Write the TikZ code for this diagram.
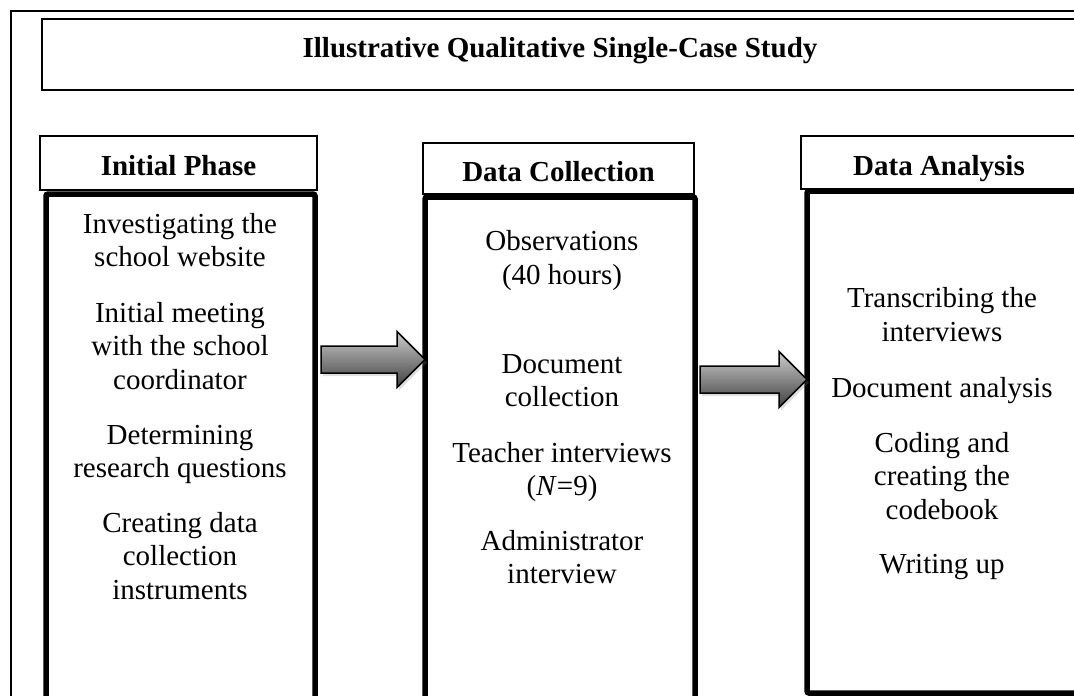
\documentclass[tikz,border=0pt]{standalone}
\usepackage{fontspec}
\setmainfont{Liberation Serif}
\usetikzlibrary{calc,shadows}

\newcommand{\bodysize}{\fontsize{29}{33.5}\selectfont}
\newcommand{\blockarrow}[2]{% #1 = free end, #2 = tip
  \path[fatarrow] let \p1=(#1), \p2=(#2) in
    (\x1,\y1+13.5pt) -- (\x2-28pt,\y1+13.5pt) -- (\x2-28pt,\y1+28pt) -- (\x2,\y1)
    -- (\x2-28pt,\y1-28pt) -- (\x2-28pt,\y1-13.5pt) -- (\x1,\y1-13.5pt) -- cycle;
}

\tikzset{
  titlebox/.style={draw, line width=1.2pt, inner sep=0pt, outer sep=0pt,
    font=\bodysize\bfseries, text height=5pt, text depth=0pt},
  headbox/.style={draw, line width=1.4pt, inner sep=0pt, outer sep=0pt,
    font=\bodysize\bfseries, text height=25pt, text depth=0pt},
  phasebox/.style={draw, line width=5.5pt, rounded corners=2pt, inner sep=0pt, outer sep=0pt},
  item/.style={align=center, inner sep=0pt, anchor=base, font=\bodysize},
  fatarrow/.style={draw, line width=1.5pt, line join=miter, top color=black!20, bottom color=black!75,
    drop shadow={opacity=0.25, shadow xshift=2pt, shadow yshift=-3pt}}
}

\begin{document}
\begin{tikzpicture}[x=1pt, y=-1pt]
    \useasboundingbox (0,0) rectangle (1074,696);
    \clip (0,0) rectangle (1074,696);

    % frame and title
    \draw[line width=1.8pt] (11,11) rectangle (1110,730);
    \node[titlebox, minimum width=1036pt, minimum height=71pt] (title) at (560,54.5)
        {Illustrative Qualitative Single-Case Study};

    % the three phases
    \node[phasebox, minimum width=269pt, minimum height=530pt] (initbox) at (180.5,459) {};
    \node[phasebox, minimum width=270pt, minimum height=527pt] (collbox) at (560,460.5) {};
    \node[phasebox, minimum width=283pt, minimum height=502pt] (analbox) at (948.5,442) {};

    \node[headbox, minimum width=277pt, minimum height=54pt] (inithead) at (178.5,163) {Initial Phase};
    \node[headbox, minimum width=271pt, minimum height=51pt] (collhead) at (558.5,168.5) {Data Collection};
    \node[headbox, minimum width=276pt, minimum height=53pt] (analhead) at (939,162.5) {Data Analysis};

    % initial phase (y = baseline of the last line)
    \node[item] (init1) at (180,266.5) {Investigating the\\school website};
    \node[item] (init2) at (180,389) {Initial meeting\\with the school\\coordinator};
    \node[item] (init3) at (180,477.5) {Determining\\research questions};
    \node[item] (init4) at (180,599) {Creating data\\collection\\instruments};

    % data collection
    \node[item] (coll1) at (562,284) {Observations\\(40 hours)};
    \node[item] (coll2) at (562,406.5) {Document\\collection};
    \node[item] (coll3) at (562,495.5) {Teacher interviews\\(\textit{N}=9)};
    \node[item] (coll4) at (562,583.5) {Administrator\\interview};

    % data analysis
    \node[item] (anal1) at (942,341) {Transcribing the\\interviews};
    \node[item] (anal2) at (942,397) {Document analysis};
    \node[item] (anal3) at (942,519) {Coding and\\creating the\\codebook};
    \node[item] (anal4) at (942,573) {Writing up};

    % arrows between phases
    \coordinate (from1) at ([xshift=6pt]initbox.east |- 0,359.5);
    \coordinate (to1) at (collbox.west |- from1);
    \blockarrow{from1}{to1}
    \coordinate (from2) at ([xshift=5pt]collbox.east |- 0,379.5);
    \coordinate (to2) at (analbox.west |- from2);
    \blockarrow{from2}{to2}
\end{tikzpicture}
\end{document}
